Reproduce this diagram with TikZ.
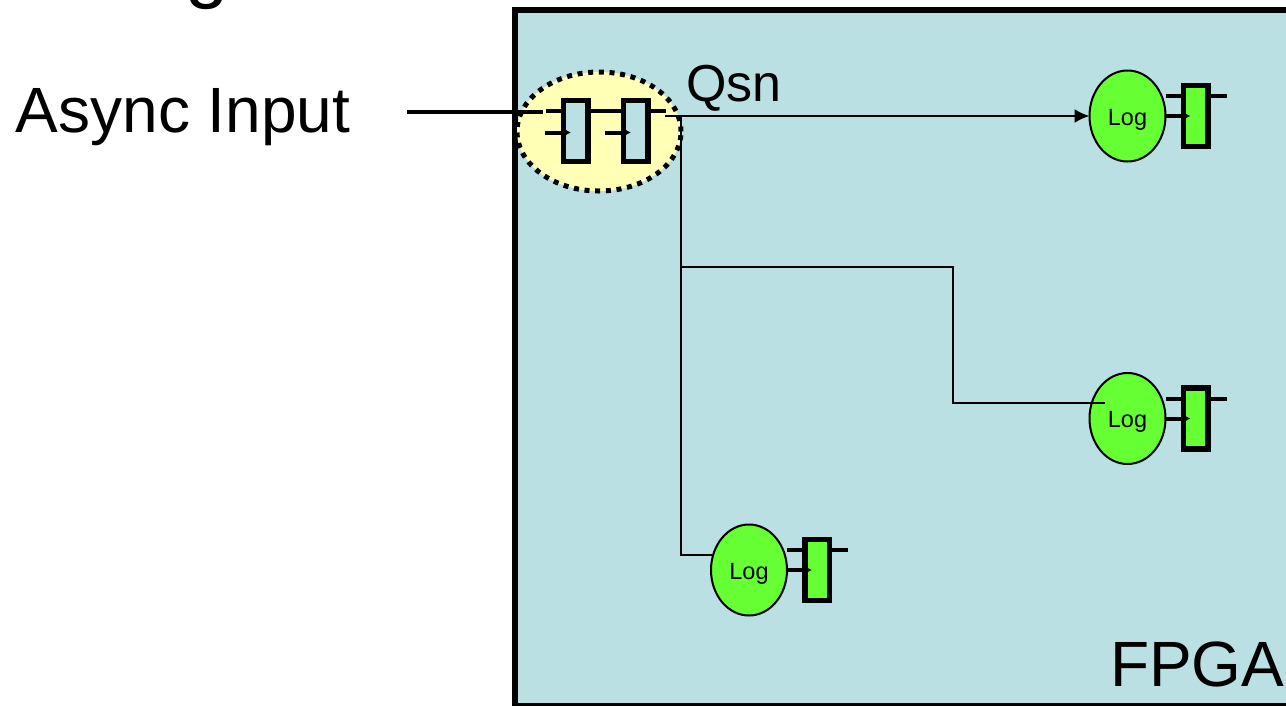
\documentclass[tikz,border=0pt]{standalone}
\usepackage{fontspec}
\setmainfont{Liberation Sans}
\usetikzlibrary{shapes.geometric,arrows.meta}
\definecolor{fpgablue}{HTML}{BBE0E3}
\definecolor{loggreen}{HTML}{66FF33}
\definecolor{syncyellow}{HTML}{FFFFB5}
\newcommand{\bigfont}{\fontsize{64}{64}\selectfont}
\begin{document}
\begin{tikzpicture}[x=1pt,y=-1pt,
  main label/.style={inner sep=0,outer sep=0,anchor=base west},
  log node/.style={ellipse,draw,fill=loggreen,line width=2pt,inner sep=0,outer sep=0,
    minimum width=76pt,minimum height=91pt,text height=18pt,text depth=0pt,
    font=\fontsize{23.5}{23.5}\selectfont},
  flop node/.style={rectangle,draw,line width=5.5pt,inner sep=0,outer sep=0,
    minimum width=24.5pt,minimum height=61pt},
  pin/.style={line width=4pt},
  clk/.style={line width=4pt,-{Latex[length=8pt,width=10pt]}},
  wire/.style={line width=2pt}]

  \useasboundingbox (0,0) rectangle (1286,705);
  \clip (0,0) rectangle (1286,705);

  % board and text
  \node[rectangle,draw,fill=fpgablue,line width=6pt,inner sep=0,outer sep=0,anchor=north west,
    minimum width=800pt,minimum height=696pt] (fpga) at (515,10) {};
  \node[inner sep=0,anchor=base,font=\fontsize{78}{78}\selectfont] (title) at (207,-7) {g};
  \node[main label,font=\bigfont] (async) at (16,132) {Async Input};
  \node[main label,font=\fontsize{52}{52}\selectfont] (qsn) at (686,101.5) {Qsn};
  \node[main label,font=\bigfont] (fpgalabel) at (1110,686) {FPGA};

  % synchronizer
  \node[ellipse,draw,fill=syncyellow,line width=5pt,dash pattern=on 5pt off 5.7pt,
    inner sep=0,outer sep=0,minimum width=164pt,minimum height=119pt] (sync) at (599,131.5) {};
  \node[flop node,fill=fpgablue] (ff1) at (575.5,131) {};
  \node[flop node,fill=fpgablue] (ff2) at (635.7,131) {};

  \coordinate (inl) at (407,112);
  \coordinate (inr) at (543,112);
  \coordinate (d1) at (546,111);
  \coordinate (d1e) at (563,111);
  \coordinate (q1) at (588,111);
  \coordinate (d2) at (623,111);
  \coordinate (q2) at (648,111);
  \coordinate (q2e) at (666,111);
  \coordinate (c1) at (545,132.5);
  \coordinate (c1e) at (571,132.5);
  \coordinate (c2) at (605,132.5);
  \coordinate (c2e) at (631,132.5);

  \draw[line width=4pt] (inl) -- (inr);
  \draw[pin] (d1) -- (d1e);
  \draw[pin] (q1) -- (d2);
  \draw[pin] (q2) -- (q2e);
  \draw[clk] (c1) -- (c1e);
  \draw[clk] (c2) -- (c2e);

  % logic and its flops
  \foreach \name/\x/\y in {a/1127.5/116,b/1127.5/418.5,c/749/570}{
    \node[log node] (log\name) at (\x,\y) {Log};
    \node[flop node,fill=loggreen] (reg\name) at (\x+68,\y) {};
    \coordinate (regd\name) at (\x+38,\y-20);
    \coordinate (regde\name) at (\x+55,\y-20);
    \coordinate (regq\name) at (\x+81,\y-20);
    \coordinate (regqe\name) at (\x+99,\y-20);
    \coordinate (regc\name) at (\x+63,\y);
    \draw[pin] (regd\name) -- (regde\name);
    \draw[pin] (regq\name) -- (regqe\name);
    \draw[clk] (log\name.east) -- (regc\name);
  }

  % fan-out of the output
  \coordinate (out) at (665,116);
  \coordinate (fork) at (681,116);
  \coordinate (bend1) at (681,267);
  \coordinate (bend2) at (953,267);
  \coordinate (bend3) at (953,403);
  \coordinate (endb) at (1105,403);
  \coordinate (bend4) at (681,554.5);
  \coordinate (endc) at (713,554.5);

  \draw[wire,-{Latex[length=15pt,width=14pt]}] (out) -- (loga.west);
  \draw[wire] (fork) -- (bend1) -- (bend2) -- (bend3) -- (endb);
  \draw[wire] (bend1) -- (bend4) -- (endc);
\end{tikzpicture}
\end{document}
